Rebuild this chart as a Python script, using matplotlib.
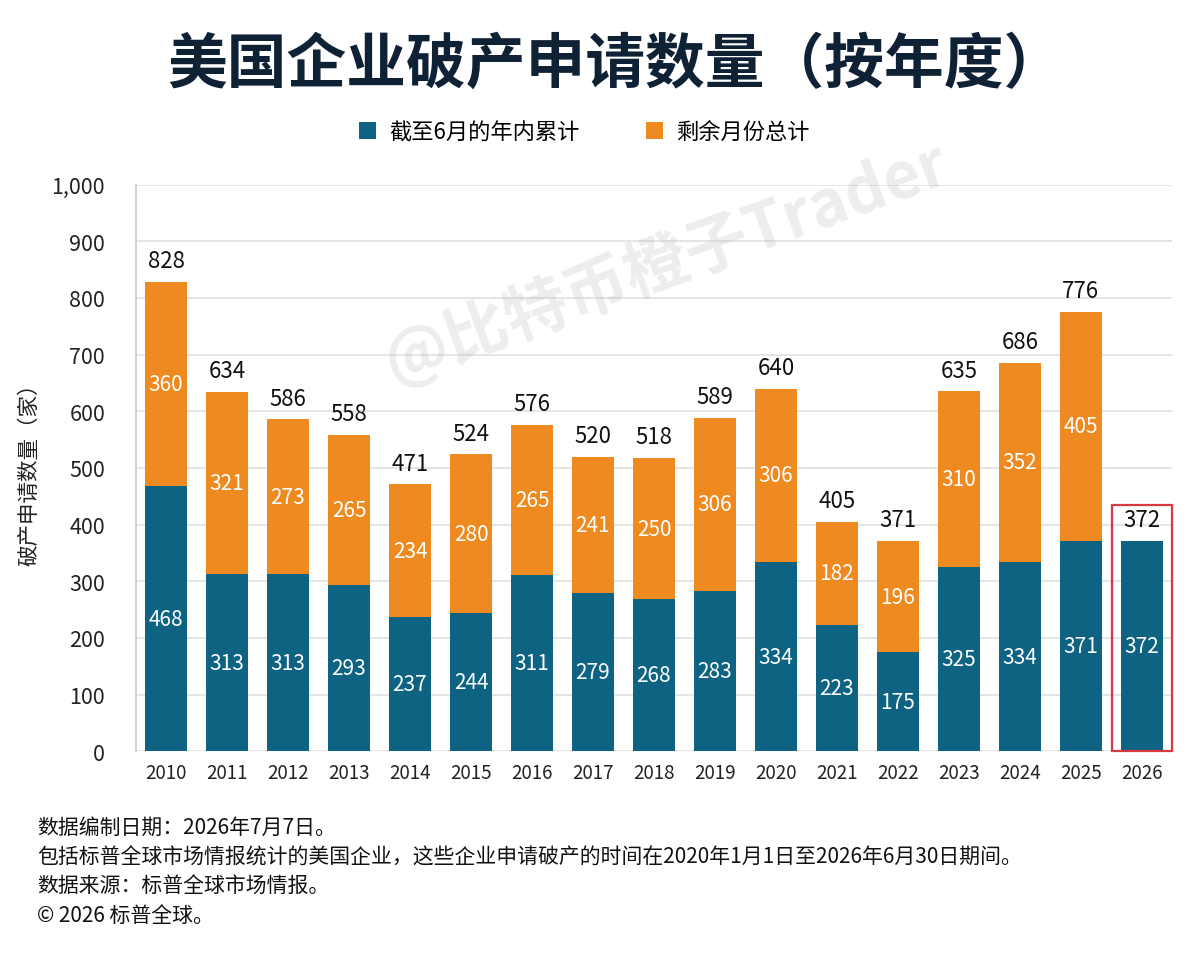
import matplotlib
matplotlib.use("Agg")
import matplotlib.pyplot as plt
from matplotlib.patches import Rectangle
import numpy as np

plt.rcParams['font.family'] = ['Noto Sans CJK SC', 'DejaVu Sans']

years = ['2010', '2011', '2012', '2013', '2014', '2015', '2016', '2017', '2018',
         '2019', '2020', '2021', '2022', '2023', '2024', '2025', '2026']
ytd_june = [468, 313, 313, 293, 237, 244, 311, 279, 268, 283, 334, 223, 175, 325, 334, 371, 372]
rest_of_year = [360, 321, 273, 265, 234, 280, 265, 241, 250, 306, 306, 182, 196, 310, 352, 405, 0]
legend_labels = ['截至6月的年内累计', '剩余月份总计']
title = '美国企业破产申请数量（按年度）'
ylabel = '破产申请数量（家）'
notes = ['数据编制日期：2026年7月7日。',
         '包括标普全球市场情报统计的美国企业，这些企业申请破产的时间在2020年1月1日至2026年6月30日期间。',
         '数据来源：标普全球市场情报。',
         '© 2026 标普全球。']

teal = '#0d6381'
orange = '#ee8a1f'
dark = '#111111'

fig = plt.figure(figsize=(12, 9.62), dpi=100)
ax = fig.add_axes([0.113, 0.218, 0.864, 0.589])

x = np.arange(len(years))
ytd = np.array(ytd_june)
rest = np.array(rest_of_year)
total = ytd + rest
w = 0.7

b1 = ax.bar(x, ytd, width=w, color=teal, label=legend_labels[0], zorder=3)
mask = rest > 0
b2 = ax.bar(x[mask], rest[mask], width=w, bottom=ytd[mask], color=orange,
            label=legend_labels[1], zorder=3)

for i in range(len(x)):
    ax.text(x[i], ytd[i] / 2, str(ytd[i]), ha='center', va='center',
            color='white', fontsize=15, zorder=4)
    if rest[i] > 0:
        ax.text(x[i], ytd[i] + rest[i] / 2, str(rest[i]), ha='center', va='center',
                color='white', fontsize=15, zorder=4)
    ax.annotate(str(total[i]), (x[i], total[i]), xytext=(0, 7), textcoords='offset points',
                ha='center', va='bottom', fontsize=16, color=dark, zorder=4)

# highlight box around the last year
last = len(x) - 1
ax.add_patch(Rectangle((x[last] - 0.49, 0), 0.99, total[last] + 62, fill=False,
                       edgecolor='#d93a40', linewidth=1.6, zorder=5, clip_on=False))

ax.set_xlim(-0.5, len(x) - 0.5)
ax.set_ylim(0, 1000)
ax.set_yticks(np.arange(0, 1001, 100))
ax.set_yticklabels([f'{v:,}' for v in range(0, 1001, 100)], fontsize=15.5, color='#222222')
ax.set_xticks(x)
ax.set_xticklabels(years, fontsize=13.5, color='#222222')
ax.tick_params(axis='both', length=0, pad=8)
ax.tick_params(axis='y', pad=22)
ax.grid(axis='y', color='#e0e0e0', linewidth=1.2, zorder=0)
for s in ['top', 'right', 'bottom']:
    ax.spines[s].set_visible(False)
ax.spines['left'].set_color('#cccccc')
ax.spines['left'].set_linewidth(1.2)
ax.set_ylabel(ylabel, fontsize=15.5, color='#222222', labelpad=8)

fig.text(0.513, 0.932, title, ha='center', va='center', fontsize=43,
         fontweight='heavy', color='#0f2134')

leg = fig.legend(handles=[b1, b2], labels=legend_labels, loc='center',
                 bbox_to_anchor=(0.487, 0.862), ncol=2, frameon=False, fontsize=16,
                 handlelength=0.75, handleheight=0.75, columnspacing=3.0, handletextpad=0.6)

# watermark
fig.text(0.555, 0.725, '@比特币橙子Trader', ha='center', va='center', fontsize=46,
         rotation=20, color='#b0b0b0', alpha=0.22, style='italic', fontweight='bold')

ys = [0.139, 0.109, 0.078, 0.048]
for t, yy in zip(notes, ys):
    fig.text(0.031, yy, t, ha='left', va='center', fontsize=15, color='#111111')

fig.savefig('out.png', dpi=100, facecolor='white')
